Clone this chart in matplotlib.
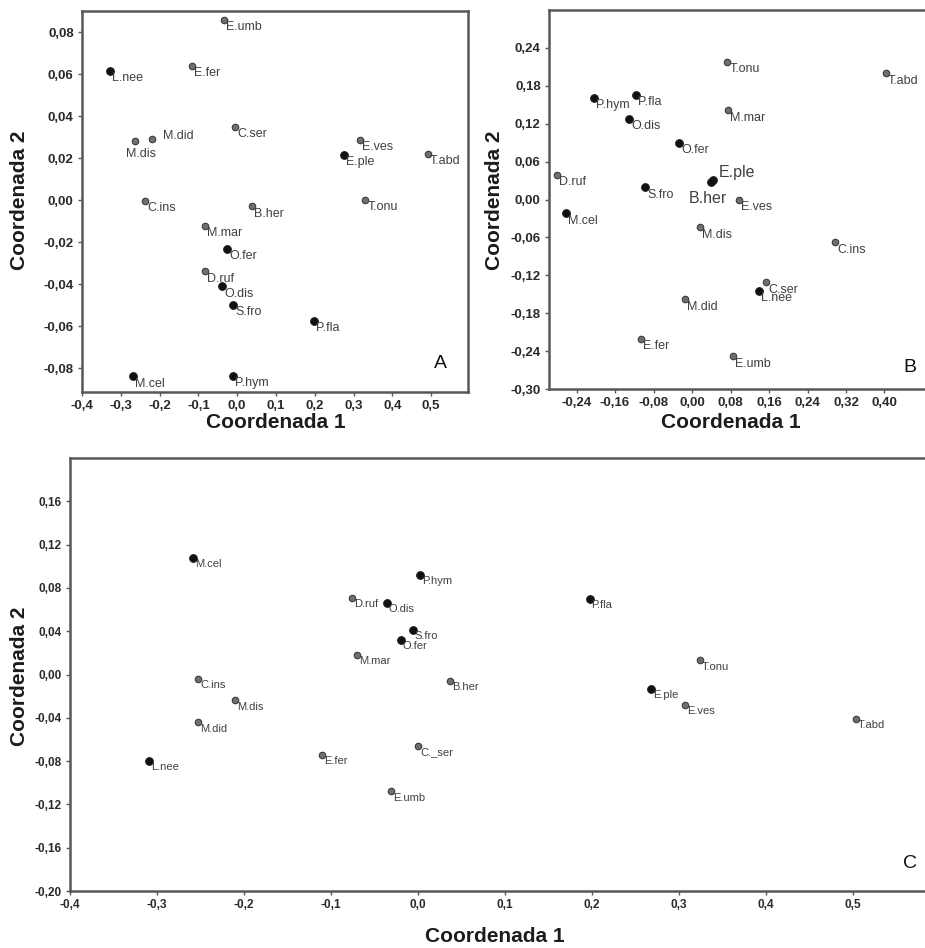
import matplotlib
matplotlib.use('Agg')
import matplotlib.pyplot as plt
from matplotlib.ticker import FixedLocator, FuncFormatter

plt.rcParams['font.family'] = ['Liberation Sans', 'DejaVu Sans']

# ---- panel A ----
a_labels = ['L.nee', 'E.fer', 'E.umb', 'M.dis', 'M.did', 'C.ser', 'E.ves', 'E.ple', 'T.abd', 'C.ins',
            'T.onu', 'B.her', 'M.mar', 'O.fer', 'D.ruf', 'O.dis', 'S.fro', 'P.fla', 'M.cel', 'P.hym']
a_x = [-0.328, -0.116, -0.034, -0.263, -0.220, -0.006, 0.316, 0.275, 0.492, -0.238,
       0.330, 0.038, -0.083, -0.026, -0.083, -0.039, -0.011, 0.198, -0.268, -0.011]
a_y = [0.0614, 0.0640, 0.0857, 0.0280, 0.0290, 0.0348, 0.0286, 0.0214, 0.0220, -0.0005,
       0.0000, -0.0030, -0.0124, -0.0233, -0.0340, -0.0410, -0.0500, -0.0576, -0.0840, -0.0838]
a_dark = [1, 0, 0, 0, 0, 0, 0, 1, 0, 0,
          0, 0, 0, 1, 0, 1, 1, 1, 1, 1]
a_xticks = [-0.4, -0.3, -0.2, -0.1, 0.0, 0.1, 0.2, 0.3, 0.4, 0.5]
a_yticks = [-0.08, -0.06, -0.04, -0.02, 0.0, 0.02, 0.04, 0.06, 0.08]

# ---- panel B ----
b_labels = ['T.onu', 'T.abd', 'P.hym', 'P.fla', 'M.mar', 'O.dis', 'O.fer', 'D.ruf', 'E.ple', 'B.her',
            'S.fro', 'E.ves', 'M.cel', 'M.dis', 'C.ins', 'C.ser', 'L.nee', 'M.did', 'E.fer', 'E.umb']
b_x = [0.073, 0.403, -0.204, -0.116, 0.075, -0.131, -0.027, -0.281, 0.044, 0.039,
       -0.098, 0.098, -0.262, 0.017, 0.297, 0.154, 0.139, -0.015, -0.106, 0.085]
b_y = [0.218, 0.200, 0.161, 0.166, 0.141, 0.128, 0.090, 0.039, 0.031, 0.027,
       0.019, 0.000, -0.022, -0.044, -0.068, -0.131, -0.145, -0.158, -0.221, -0.248]
b_dark = [0, 0, 1, 1, 0, 1, 1, 0, 1, 1,
          1, 0, 1, 0, 0, 0, 1, 0, 0, 0]
b_xticks = [-0.24, -0.16, -0.08, 0.0, 0.08, 0.16, 0.24, 0.32, 0.40]
b_yticks = [-0.30, -0.24, -0.18, -0.12, -0.06, 0.0, 0.06, 0.12, 0.18, 0.24]

# ---- panel C ----
c_labels = ['M.cel', 'P.hym', 'D.ruf', 'O.dis', 'S.fro', 'O.fer', 'M.mar', 'P.fla', 'T.onu', 'B.her',
            'E.ple', 'E.ves', 'T.abd', 'C.ins', 'M.dis', 'M.did', 'L.nee', 'E.fer', 'C._ser', 'E.umb']
c_x = [-0.259, 0.002, -0.076, -0.036, -0.006, -0.020, -0.070, 0.197, 0.324, 0.037,
       0.268, 0.307, 0.503, -0.253, -0.210, -0.253, -0.309, -0.110, 0.000, -0.031]
c_y = [0.108, 0.092, 0.071, 0.066, 0.0415, 0.032, 0.018, 0.070, 0.013, -0.006,
       -0.013, -0.028, -0.041, -0.004, -0.024, -0.044, -0.080, -0.074, -0.066, -0.108]
c_dark = [1, 1, 0, 1, 1, 1, 0, 1, 0, 0,
          1, 0, 0, 0, 0, 0, 1, 0, 0, 0]
c_xticks = [-0.4, -0.3, -0.2, -0.1, 0.0, 0.1, 0.2, 0.3, 0.4, 0.5]
c_yticks = [-0.20, -0.16, -0.12, -0.08, -0.04, 0.0, 0.04, 0.08, 0.12, 0.16]

W, H = 925, 948


def px(x0, y0, x1, y1):
    # axes rectangle from pixel box
    return [x0 / W, 1 - y1 / H, (x1 - x0) / W, (y1 - y0) / H]


def comma(dec):
    return FuncFormatter(lambda v, p: f'{v:.{dec}f}'.replace('.', ','))


def panel(ax, labels, xs, ys, dark, offsets, fs=9, big=()):
    for lab, x, y, d in zip(labels, xs, ys, dark):
        ax.scatter(x, y, s=30 if d else 22, color='#111111' if d else '#6f6f6f',
                   edgecolors='#1a1a1a' if d else '#3c3c3c', linewidths=0.8, zorder=3)
        dx, dy, ha, va = offsets.get(lab, (1.5, -1.0, 'left', 'top'))
        ax.annotate(lab, (x, y), xytext=(dx, dy), textcoords='offset points',
                    ha=ha, va=va, fontsize=11.5 if lab in big else fs, color='#404040')
    for s in ax.spines.values():
        s.set_color('#585858')
        s.set_linewidth(1.8)
    ax.tick_params(direction='out', length=3, width=1, color='#585858', labelsize=9.5, pad=3,
                   labelcolor='#2a2a2a')


fig = plt.figure(figsize=(W / 100, H / 100), dpi=100)

axA = fig.add_axes(px(82, 11, 468, 392))
panel(axA, a_labels, a_x, a_y, a_dark,
      {'M.dis': (4, -5, 'center', 'top'), 'M.did': (8, 2, 'left', 'center')})
axA.set_xlim(-0.4, 0.595)
axA.set_ylim(-0.0914, 0.090)
axA.xaxis.set_major_locator(FixedLocator(a_xticks))
axA.yaxis.set_major_locator(FixedLocator(a_yticks))
axA.xaxis.set_major_formatter(comma(1))
axA.yaxis.set_major_formatter(comma(2))

axB = fig.add_axes(px(549, 10, 935, 389))
panel(axB, b_labels, b_x, b_y, b_dark,
      {'B.her': (-2, -6, 'center', 'top'), 'E.ple': (4, 5, 'left', 'center')},
      big=('B.her', 'E.ple'))
axB.set_xlim(-0.2973, 0.505)
axB.set_ylim(-0.30, 0.30)
axB.xaxis.set_major_locator(FixedLocator(b_xticks))
axB.yaxis.set_major_locator(FixedLocator(b_yticks))
axB.xaxis.set_major_formatter(comma(2))
axB.yaxis.set_major_formatter(comma(2))

axC = fig.add_axes(px(70, 458, 935, 891))
panel(axC, c_labels, c_x, c_y, c_dark, {}, fs=8)
axC.set_xlim(-0.4, 0.594)
axC.set_ylim(-0.20, 0.20)
axC.xaxis.set_major_locator(FixedLocator(c_xticks))
axC.yaxis.set_major_locator(FixedLocator(c_yticks))
axC.xaxis.set_major_formatter(comma(1))
axC.yaxis.set_major_formatter(comma(2))
axC.tick_params(labelsize=8.5)

for ax in (axA, axB, axC):
    for t in ax.get_xticklabels() + ax.get_yticklabels():
        t.set_fontweight('bold')

# axis titles and panel letters
lab_kw = dict(fontsize=15, fontweight='bold', color='#1c1c1c', ha='center', va='center')
fig.text(276 / W, 1 - 422 / H, 'Coordenada 1', **lab_kw)
fig.text(731 / W, 1 - 422 / H, 'Coordenada 1', **lab_kw)
fig.text(495 / W, 1 - 937 / H, 'Coordenada 1', **lab_kw)
fig.text(20 / W, 1 - 200 / H, 'Coordenada 2', rotation=90, **lab_kw)
fig.text(494 / W, 1 - 200 / H, 'Coordenada 2', rotation=90, **lab_kw)
fig.text(20 / W, 1 - 676 / H, 'Coordenada 2', rotation=90, **lab_kw)

let_kw = dict(fontsize=14, color='#111111', ha='center', va='center')
fig.text(440 / W, 1 - 364 / H, 'A', **let_kw)
fig.text(910 / W, 1 - 368 / H, 'B', **let_kw)
fig.text(910 / W, 1 - 863 / H, 'C', **let_kw)

fig.savefig('out.png', dpi=100)
